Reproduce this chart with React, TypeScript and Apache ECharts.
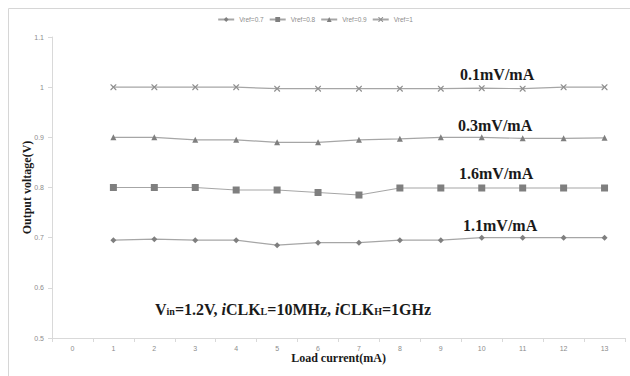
import React, { useEffect, useRef } from "react";
import * as echarts from "echarts";

const categories = ["0", "1", "2", "3", "4", "5", "6", "7", "8", "9", "10", "11", "12", "13"];
const vref07 = ["-", 0.695, 0.697, 0.695, 0.695, 0.685, 0.69, 0.69, 0.695, 0.695, 0.7, 0.7, 0.7, 0.7];
const vref08 = ["-", 0.8, 0.8, 0.8, 0.795, 0.795, 0.79, 0.785, 0.799, 0.799, 0.799, 0.799, 0.799, 0.799];
const vref09 = ["-", 0.9, 0.9, 0.895, 0.895, 0.89, 0.89, 0.895, 0.897, 0.9, 0.9, 0.898, 0.898, 0.899];
const vref1 = ["-", 1.0, 1.0, 1.0, 1.0, 0.997, 0.997, 0.997, 0.997, 0.997, 0.998, 0.997, 1.0, 1.0];
const seriesNames = ["Vref=0.7", "Vref=0.8", "Vref=0.9", "Vref=1"];
const slopeLabels = ["1.1mV/mA", "1.6mV/mA", "0.3mV/mA", "0.1mV/mA"];

const crossPath = "path://M0,0 L1.5,0 L5,3.5 L8.5,0 L10,0 L10,1.5 L6.5,5 L10,8.5 L10,10 L8.5,10 L5,6.5 L1.5,10 L0,10 L0,8.5 L3.5,5 L0,1.5 Z";

export default function App() {
  const ref = useRef<HTMLDivElement>(null);
  useEffect(() => {
    const chart = echarts.init(ref.current!, undefined, { renderer: "svg" });
    const lineColor = "#a6a6a6";
    const markColor = "#7f7f7f";
    const mk = (name: string, data: any[], symbol: string, size: number, color = markColor) => ({
      name,
      type: "line",
      data,
      symbol,
      symbolSize: size,
      showSymbol: true,
      lineStyle: { color: lineColor, width: 1.2 },
      itemStyle: { color },
      emphasis: { disabled: true },
    });
    const annoStyle = {
      fontFamily: "Liberation Serif",
      fontWeight: "bold",
      fontSize: 16,
      fill: "#1a1a1a",
    };
    const annoPos = [
      { left: 463, top: 217 },
      { left: 459, top: 165 },
      { left: 458, top: 117 },
      { left: 460, top: 66 },
    ];
    chart.setOption({
      animation: false,
      backgroundColor: "#fff",
      legend: {
        data: seriesNames,
        top: 11,
        left: "center",
        itemWidth: 16,
        itemHeight: 6,
        itemGap: 5,
        textStyle: { fontSize: 6.5, color: "#8c8c8c", fontFamily: "Liberation Sans" },
      },
      grid: { left: 52, right: 5, top: 37, bottom: 38 },
      xAxis: {
        type: "category",
        data: categories,
        boundaryGap: true,
        name: "Load current(mA)",
        nameLocation: "middle",
        nameGap: 14,
        nameMoveOverlap: false,
        nameTextStyle: { fontFamily: "Liberation Serif", fontWeight: "bold", fontSize: 12, color: "#1a1a1a" },
        axisLine: { lineStyle: { color: "#d9d9d9" } },
        axisTick: { show: true, alignWithLabel: false, length: 4, lineStyle: { color: "#d9d9d9" } },
        axisLabel: { fontSize: 7, color: "#8c8c8c", margin: 7 },
      },
      yAxis: {
        type: "value",
        min: 0.5,
        max: 1.1,
        interval: 0.1,
        name: "Output voltage(V)",
        nameLocation: "middle",
        nameRotate: 90,
        nameGap: 19,
        nameMoveOverlap: false,
        nameTextStyle: { fontFamily: "Liberation Serif", fontWeight: "bold", fontSize: 12, color: "#1a1a1a" },
        axisLine: { show: true, lineStyle: { color: "#d9d9d9" } },
        axisTick: { show: true, length: 4, lineStyle: { color: "#d9d9d9" } },
        splitLine: { show: false },
        axisLabel: {
          fontSize: 7,
          color: "#8c8c8c",
          margin: 8,
          formatter: (v: number) => String(Math.round(v * 10) / 10),
        },
      },
      graphic: [
        {
          type: "rect",
          shape: { x: 8.5, y: 8.5, width: 640, height: 400 },
          style: { fill: "none", stroke: "#d6d6d6", lineWidth: 1 },
          silent: true,
        },
        ...slopeLabels.map((t, i) => ({
          type: "text",
          left: annoPos[i].left,
          top: annoPos[i].top,
          silent: true,
          style: { text: t, ...annoStyle },
        })),
        {
          type: "text",
          left: 155,
          top: 301,
          silent: true,
          style: {
            text: "{b|V}{s|in}{b|=1.2V, }{i|i}{b|CLK}{s|L}{b|=10MHz, }{i|i}{b|CLK}{s|H}{b|=1GHz}",
            rich: {
              b: { fontFamily: "Liberation Serif", fontWeight: "bold", fontSize: 16, fill: "#1a1a1a" },
              i: { fontFamily: "Liberation Serif", fontWeight: "bold", fontStyle: "italic", fontSize: 16, fill: "#1a1a1a" },
              s: { fontFamily: "Liberation Serif", fontWeight: "bold", fontSize: 10, fill: "#1a1a1a", padding: [4, 0, 0, 0] },
            },
          },
        },
      ],
      series: [
        mk(seriesNames[0], vref07, "diamond", 6),
        mk(seriesNames[1], vref08, "rect", 7),
        mk(seriesNames[2], vref09, "triangle", 6),
        mk(seriesNames[3], vref1, crossPath, 6, "#8f8f8f"),
      ],
    });
    return () => chart.dispose();
  }, []);
  return (
    <div
      ref={ref}
      style={{ position: "absolute", left: 0, top: 0, width: 630, height: 376 }}
    />
  );
}
